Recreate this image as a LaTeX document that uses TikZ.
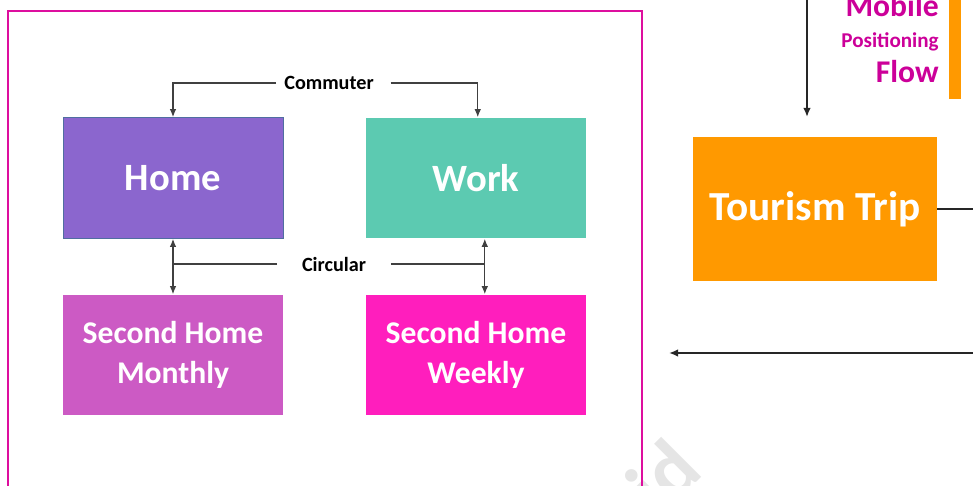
\documentclass[tikz,border=0pt]{standalone}
\usepackage{fontspec}
\setmainfont{Carlito}
\usetikzlibrary{arrows.meta,positioning}
\definecolor{homecol}{RGB}{139,102,206}
\definecolor{homeedge}{RGB}{80,110,160}
\definecolor{workcol}{RGB}{92,202,177}
\definecolor{monthcol}{RGB}{204,90,196}
\definecolor{weekcol}{RGB}{255,30,189}
\definecolor{tripcol}{RGB}{255,153,0}
\definecolor{framecol}{RGB}{221,14,158}
\definecolor{flowcol}{RGB}{204,0,153}
\tikzset{
  place/.style={minimum width=4.4cm, minimum height=2.42cm, inner sep=0pt,
                align=center, text=white, font=\bfseries\fontsize{22}{24}\selectfont},
  secplace/.style={place, font=\bfseries\fontsize{18}{22.5}\selectfont},
  tag/.style={font=\bfseries\fontsize{11.5}{13}\selectfont, inner sep=4.5pt},
  link/.style={line width=0.6pt, black!75},
  linkarr/.style={-{Latex[length=1.6mm,width=1.3mm]}, link},
  bothway/.style={{Latex[length=1.6mm,width=1.3mm]}-{Latex[length=1.6mm,width=1.3mm]}, link},
  flowarr/.style={-{Latex[length=1.8mm,width=1.5mm]}, line width=1pt, black!85},
  flowtxt/.style={anchor=base east, inner sep=0pt, text=flowcol, font=\bfseries},
}

\begin{document}
\begin{tikzpicture}[x=0.02cm, y=-0.02cm]
  \useasboundingbox (0,0) rectangle (973,486);
  \clip (0,0) rectangle (973,486);

  % watermark, mostly cut off
  \node[rotate=45, text=gray!20, font=\bfseries\fontsize{46}{46}\selectfont] (mark) at (663,476) {id};

  % the frame round the four places
  \draw[framecol, line width=1.6pt] (8,11) rectangle (642,520);

  \node[place, fill=homecol, draw=homeedge, line width=0.5pt] (home) at (173,178) {Home};
  \node[place, fill=workcol] (work) at (476,178) {Work};
  \node[secplace, fill=monthcol] (monthly) at (173,355) {Second Home\\Monthly};
  \node[secplace, fill=weekcol] (weekly) at (476,355) {Second Home\\Weekly};

  \node[tag] (commuter) at (329,83) {Commuter};
  \draw[linkarr] (commuter.west) -| (home.north);
  \draw[linkarr] ([xshift=5pt]commuter.east) -| ([xshift=1pt]work.north);

  \node[tag, inner xsep=14pt] (circular) at (334,264) {Circular};
  \draw[bothway] (home.south) -- (monthly.north);
  \draw[bothway] ([xshift=5pt]work.south) -- ([xshift=5pt]weekly.north);
  \draw[link] (circular.west) -- (home.south |- circular.west);
  \draw[link] (circular.east) -- ([xshift=5pt]work.south |- circular.east);

  % right hand side
  \node[place, minimum width=4.88cm, minimum height=2.88cm, fill=tripcol,
        font=\bfseries\fontsize{23.5}{25}\selectfont] (trip) at (815,209) {Tourism Trip};
  \coordinate (tripout) at (980,209);
  \draw[line width=1pt, black!85] (trip.east) -- (tripout);

  \coordinate (flowin) at (807,-5);
  \coordinate (flowend) at (807,117);
  \draw[flowarr] (flowin) -- (flowend);

  \node[flowtxt, font=\bfseries\fontsize{18}{18}\selectfont] (mobile) at (939,17) {Mobile};
  \node[flowtxt, font=\bfseries\fontsize{12}{12}\selectfont] (positioning) at (939,48) {Positioning};
  \node[flowtxt, font=\bfseries\fontsize{18}{18}\selectfont] (flow) at (939,83) {Flow};
  \fill[tripcol] (949,-5) rectangle (961,99);

  \coordinate (backin) at (980,353);
  \coordinate (backend) at (669,353);
  \draw[flowarr] (backin) -- (backend);
\end{tikzpicture}
\end{document}
